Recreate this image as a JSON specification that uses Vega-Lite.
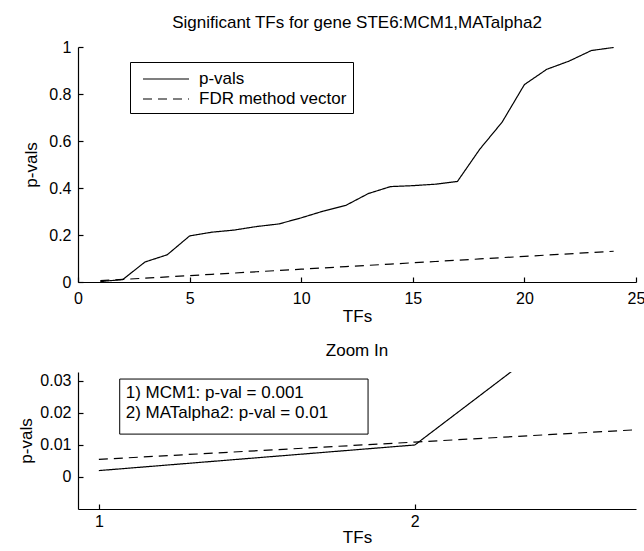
{
  "$schema": "https://vega.github.io/schema/vega-lite/v6.json",
  "background": "white",
  "padding": {"left": 17, "top": 14, "right": 0, "bottom": 0},
  "autosize": {"type": "pad"},
  "datasets": {
    "pv": [
      {"tf": 1, "value": 0.002, "series": "p-vals"},
      {"tf": 2, "value": 0.01, "series": "p-vals"},
      {"tf": 3, "value": 0.085, "series": "p-vals"},
      {"tf": 4, "value": 0.116, "series": "p-vals"},
      {"tf": 5, "value": 0.196, "series": "p-vals"},
      {"tf": 6, "value": 0.212, "series": "p-vals"},
      {"tf": 7, "value": 0.221, "series": "p-vals"},
      {"tf": 8, "value": 0.236, "series": "p-vals"},
      {"tf": 9, "value": 0.247, "series": "p-vals"},
      {"tf": 10, "value": 0.273, "series": "p-vals"},
      {"tf": 11, "value": 0.302, "series": "p-vals"},
      {"tf": 12, "value": 0.326, "series": "p-vals"},
      {"tf": 13, "value": 0.376, "series": "p-vals"},
      {"tf": 14, "value": 0.406, "series": "p-vals"},
      {"tf": 15, "value": 0.41, "series": "p-vals"},
      {"tf": 16, "value": 0.416, "series": "p-vals"},
      {"tf": 17, "value": 0.428, "series": "p-vals"},
      {"tf": 18, "value": 0.565, "series": "p-vals"},
      {"tf": 19, "value": 0.68, "series": "p-vals"},
      {"tf": 20, "value": 0.84, "series": "p-vals"},
      {"tf": 21, "value": 0.905, "series": "p-vals"},
      {"tf": 22, "value": 0.94, "series": "p-vals"},
      {"tf": 23, "value": 0.985, "series": "p-vals"},
      {"tf": 24, "value": 0.998, "series": "p-vals"},
      {"tf": 1, "value": 0.0055, "series": "FDR method vector"},
      {"tf": 2, "value": 0.0109, "series": "FDR method vector"},
      {"tf": 3, "value": 0.0164, "series": "FDR method vector"},
      {"tf": 4, "value": 0.0218, "series": "FDR method vector"},
      {"tf": 5, "value": 0.0273, "series": "FDR method vector"},
      {"tf": 6, "value": 0.0327, "series": "FDR method vector"},
      {"tf": 7, "value": 0.0382, "series": "FDR method vector"},
      {"tf": 8, "value": 0.0436, "series": "FDR method vector"},
      {"tf": 9, "value": 0.0491, "series": "FDR method vector"},
      {"tf": 10, "value": 0.0545, "series": "FDR method vector"},
      {"tf": 11, "value": 0.06, "series": "FDR method vector"},
      {"tf": 12, "value": 0.0654, "series": "FDR method vector"},
      {"tf": 13, "value": 0.0709, "series": "FDR method vector"},
      {"tf": 14, "value": 0.0763, "series": "FDR method vector"},
      {"tf": 15, "value": 0.0818, "series": "FDR method vector"},
      {"tf": 16, "value": 0.0872, "series": "FDR method vector"},
      {"tf": 17, "value": 0.0927, "series": "FDR method vector"},
      {"tf": 18, "value": 0.0981, "series": "FDR method vector"},
      {"tf": 19, "value": 0.1036, "series": "FDR method vector"},
      {"tf": 20, "value": 0.109, "series": "FDR method vector"},
      {"tf": 21, "value": 0.1145, "series": "FDR method vector"},
      {"tf": 22, "value": 0.1199, "series": "FDR method vector"},
      {"tf": 23, "value": 0.1254, "series": "FDR method vector"},
      {"tf": 24, "value": 0.1308, "series": "FDR method vector"}
    ],
    "note": [
      {"line1": "1) MCM1: p-val = 0.001", "line2": "2) MATalpha2: p-val = 0.01"}
    ]
  },
  "config": {
    "font": "Liberation Sans",
    "view": {"stroke": null},
    "axis": {
      "grid": false,
      "domainColor": "black",
      "domainWidth": 1.2,
      "tickColor": "black",
      "tickWidth": 1.2,
      "tickSize": -5,
      "labelPadding": 10,
      "labelColor": "black",
      "labelFontSize": 16,
      "labelFont": "Liberation Sans",
      "format": "~g",
      "titleColor": "black",
      "titleFontSize": 17,
      "titleFontWeight": "normal",
      "labelFlush": false,
      "labelOverlap": false
    },
    "axisY": {"labelPadding": 12},
    "title": {"fontSize": 17, "fontWeight": "normal", "color": "black", "anchor": "middle"},
    "legend": {
      "labelFontSize": 17,
      "labelColor": "black",
      "labelFont": "Liberation Sans"
    }
  },
  "spacing": 18,
  "vconcat": [
    {
      "width": 558,
      "height": 235,
      "title": {"text": "Significant TFs for gene STE6:MCM1,MATalpha2", "offset": 7},
      "data": {"name": "pv"},
      "mark": {"type": "line", "color": "black", "strokeWidth": 1.2},
      "encoding": {
        "x": {"field": "tf", "type": "quantitative", "title": "TFs",
              "scale": {"domain": [0, 25], "nice": false},
              "axis": {"values": [0, 5, 10, 15, 20, 25], "labelPadding": 13, "titlePadding": 2}},
        "y": {"field": "value", "type": "quantitative", "title": "p-vals",
              "scale": {"domain": [0, 1], "nice": false},
              "axis": {"values": [0, 0.2, 0.4, 0.6, 0.8, 1], "titlePadding": 8}},
        "strokeDash": {"field": "series", "type": "nominal",
          "scale": {"domain": ["p-vals", "FDR method vector"], "range": [[1, 0], [9, 6]]},
          "legend": {
            "title": null, "orient": "none", "legendX": 52, "legendY": 15,
            "fillColor": "white", "strokeColor": "black", "padding": 6,
            "symbolType": "M-0.4,0H4.2", "symbolSize": 400, "symbolStrokeColor": "black",
            "symbolStrokeWidth": 1.2, "rowPadding": 1, "labelOffset": 41
          }
        }
      }
    },
    {
      "width": 558,
      "height": 137,
      "title": {"text": "Zoom In", "offset": 12},
      "layer": [
        {
          "data": {"name": "pv"},
          "mark": {"type": "line", "color": "black", "strokeWidth": 1.2, "clip": true},
          "encoding": {
            "x": {"field": "tf", "type": "quantitative", "title": "TFs",
                  "scale": {"domain": [0.934, 2.7], "nice": false, "zero": false},
                  "axis": {"values": [1, 2], "labelPadding": 9, "titlePadding": 0}},
            "y": {"field": "value", "type": "quantitative", "title": "p-vals",
                  "scale": {"domain": [-0.01, 0.0328], "nice": false, "zero": false},
                  "axis": {"values": [0, 0.01, 0.02, 0.03], "titlePadding": 4}},
            "strokeDash": {"field": "series", "type": "nominal",
              "scale": {"domain": ["p-vals", "FDR method vector"], "range": [[1, 0], [9, 6]]},
              "legend": null}
          }
        },
        {
          "data": {"name": "note"},
          "mark": {"type": "rect", "fill": "white", "stroke": "black", "strokeWidth": 1},
          "encoding": {
            "x": {"datum": 1.066}, "x2": {"datum": 1.852},
            "y": {"datum": 0.0306}, "y2": {"datum": 0.0134}
          }
        },
        {
          "data": {"name": "note"},
          "mark": {"type": "text", "align": "left", "baseline": "top", "fontSize": 17, "lineHeight": 20, "dx": 6, "dy": 6, "color": "black"},
          "encoding": {
            "x": {"datum": 1.066},
            "y": {"datum": 0.0306},
            "text": {"value": ["1) MCM1: p-val = 0.001", "2) MATalpha2: p-val = 0.01"]}
          }
        }
      ]
    }
  ]
}
